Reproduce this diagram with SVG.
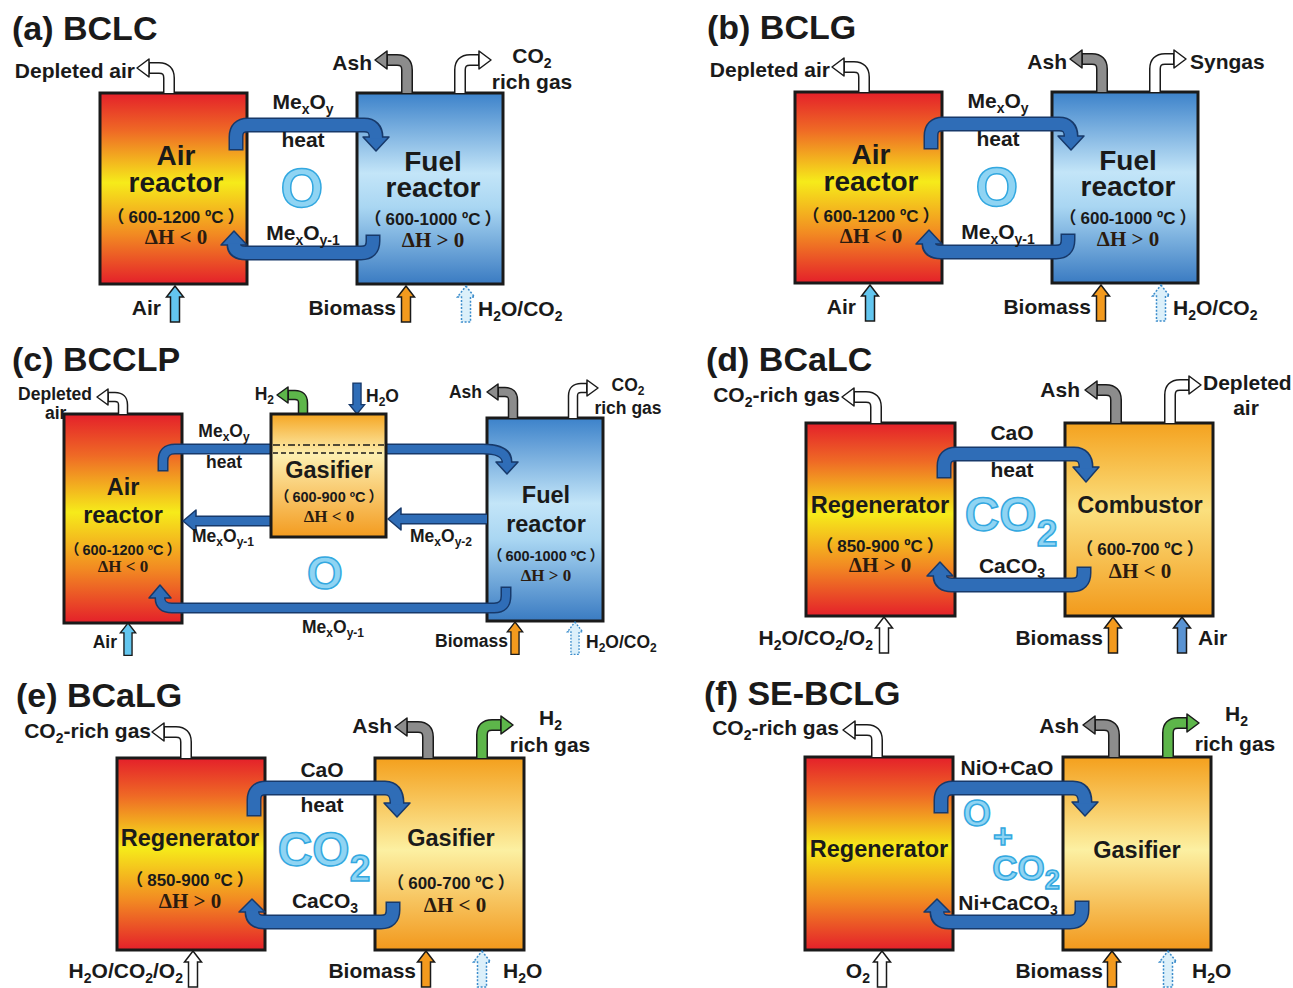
<svg xmlns="http://www.w3.org/2000/svg" width="1293" height="988" viewBox="0 0 1293 988">
<style>
.t{font-family:"Liberation Sans","Noto Sans CJK SC",sans-serif;font-weight:700;fill:#1a1a1a}
.ttl{font-size:34px}
.l{font-size:21px}
.s{font-size:17.5px}
.m{text-anchor:middle}
.e{text-anchor:end}
.n28{font-size:28px}
.n23{font-size:23.5px}
.p17{font-size:17px}
.p14{font-size:14.5px}
.dh{font-family:"Liberation Serif",serif;font-weight:700;fill:#2b1b0f;text-anchor:middle}
.big{font-family:"Liberation Sans",sans-serif;font-weight:700;fill:#8fd4f3;stroke:#33a8e0;stroke-width:1.5;text-anchor:middle}
.bx{stroke:#1a1a1a;stroke-width:3}
.lo{fill:none;stroke:#17396a;stroke-width:15}
.li{fill:none;stroke:#2f6db7;stroke-width:12}
.lo2{fill:none;stroke:#17396a;stroke-width:11}
.li2{fill:none;stroke:#2f6db7;stroke-width:8}
.lh{fill:#2f6db7;stroke:#17396a;stroke-width:1.5;stroke-linejoin:round}
.oo{fill:none;stroke:#1a1a1a;stroke-width:12}
.iw{fill:none;stroke:#fff;stroke-width:9}
.ig{fill:none;stroke:#8c8c8c;stroke-width:9}
.ie{fill:none;stroke:#5db64a;stroke-width:9}
.o2{stroke-width:10.5}
.w2{stroke-width:7.5}
.hw{fill:#fff;stroke:#1a1a1a;stroke-width:1.5;stroke-linejoin:round}
.hg{fill:#8c8c8c;stroke:#1a1a1a;stroke-width:1.5;stroke-linejoin:round}
.he{fill:#5db64a;stroke:#1a1a1a;stroke-width:1.5;stroke-linejoin:round}
.uw{fill:#fff;stroke:#1a1a1a;stroke-width:1.5}
.ul{fill:#63c6ef;stroke:#1a1a1a;stroke-width:1.5}
.uo{fill:#f39a1e;stroke:#1a1a1a;stroke-width:1.5}
.ub{fill:#5a93d2;stroke:#1a1a1a;stroke-width:1.5}
.ud{fill:#dcf0fa;stroke:#3b8ccb;stroke-width:1.5;stroke-dasharray:2 1.6}
.uk{fill:#2f6db7;stroke:#17396a;stroke-width:1.5}
.dl{stroke:#1a1a1a;stroke-width:1.3}
</style>
<defs>
<linearGradient id="gRed" x1="0" y1="0" x2="0" y2="1">
<stop offset="0" stop-color="#e4202a"/><stop offset="0.2" stop-color="#ef6a25"/><stop offset="0.47" stop-color="#f6eb1a"/><stop offset="0.74" stop-color="#f28a22"/><stop offset="1" stop-color="#e4202a"/>
</linearGradient>
<linearGradient id="gBlue" x1="0" y1="0" x2="0" y2="1">
<stop offset="0" stop-color="#3c82ca"/><stop offset="0.42" stop-color="#c3e5f8"/><stop offset="0.6" stop-color="#a9d6f2"/><stop offset="1" stop-color="#3a7bc2"/>
</linearGradient>
<linearGradient id="gComb" x1="0" y1="0" x2="0" y2="1">
<stop offset="0" stop-color="#f4a21f"/><stop offset="0.45" stop-color="#fbe07e"/><stop offset="1" stop-color="#f29a1c"/>
</linearGradient>
<linearGradient id="gGas" x1="0" y1="0" x2="0" y2="1">
<stop offset="0" stop-color="#f4a01d"/><stop offset="0.48" stop-color="#fcf0a2"/><stop offset="1" stop-color="#f2981c"/>
</linearGradient>
<linearGradient id="gGasC" x1="0" y1="0" x2="0" y2="1">
<stop offset="0" stop-color="#f5a623"/><stop offset="0.33" stop-color="#fdefb0"/><stop offset="1" stop-color="#f39b1f"/>
</linearGradient>
<path id="up" d="M0,0 L8.5,11 L4.5,11 L4.5,36 L-4.5,36 L-4.5,11 L-8.5,11 Z"/>
</defs>
<rect width="1293" height="988" fill="#fff"/>

<!-- ================= (a) BCLC ================= -->
<g id="panel-a">
<text class="t ttl" x="12" y="40">(a) BCLC</text>
<g id="a-air-reactor">
<rect class="bx" x="100" y="93" width="147" height="191" fill="url(#gRed)"/>
<text class="t n28 m" x="176" y="165">Air</text>
<text class="t n28 m" x="176" y="192">reactor</text>
<text class="t p17 m" x="176" y="223">（<tspan dx="4">600-1200 ºC</tspan><tspan dx="4">）</tspan></text>
<text class="dh" font-size="21" x="176" y="244">ΔH &lt; 0</text>
</g>
<g id="a-fuel-reactor">
<rect class="bx" x="357" y="93" width="146" height="191" fill="url(#gBlue)"/>
<text class="t n28 m" x="433" y="171">Fuel</text>
<text class="t n28 m" x="433" y="197">reactor</text>
<text class="t p17 m" x="433" y="225">（<tspan dx="4">600-1000 ºC</tspan><tspan dx="4">）</tspan></text>
<text class="dh" font-size="21" x="433" y="247">ΔH &gt; 0</text>
</g>
<g id="a-connectors">
<path class="lo" d="M236,150.5 V137 Q236,125 248,125 H364 Q376,125 376,137"/>
<polygon class="lh" points="363,137 389,137 376,151"/>
<path class="li" d="M236,149 V137 Q236,125 248,125 H364 Q376,125 376,138.5"/>
<path class="lo" d="M373,234.5 V241 Q373,253 361,253 H246 Q234,253 234,245"/>
<polygon class="lh" points="221,245 247,245 234,231"/>
<path class="li" d="M373,236 V241 Q373,253 361,253 H246 Q234,253 234,243.5"/>
<path class="oo" d="M169,93 V78 Q169,68 159,68 H149"/>
<polygon class="hw" points="137,68 149,59 149,77"/>
<path class="iw" d="M169,93 V78 Q169,68 159,68 H150"/>
<path class="oo" d="M407,93 V70 Q407,60 397,60 H387"/>
<polygon class="hg" points="375,60 387,51 387,69"/>
<path class="ig" d="M407,93 V70 Q407,60 397,60 H388"/>
<path class="oo" d="M460,93 V70 Q460,60 470,60 H479"/>
<polygon class="hw" points="491,60 479,51 479,69"/>
<path class="iw" d="M460,93 V70 Q460,60 470,60 H478"/>
<use href="#up" class="ul" x="175" y="286"/>
<use href="#up" class="uo" x="406" y="286"/>
<use href="#up" class="ud" x="466" y="286"/>
</g>
<text class="t l m" x="303" y="109">Me<tspan font-size="14" dy="5">x</tspan><tspan dy="-5">O</tspan><tspan font-size="14" dy="5">y</tspan></text>
<text class="t l m" x="303" y="147">heat</text>
<text class="big" font-size="55" x="302" y="207">O</text>
<text class="t l m" x="303" y="240">Me<tspan font-size="14" dy="5">x</tspan><tspan dy="-5">O</tspan><tspan font-size="14" dy="5">y-1</tspan></text>
<text class="t l e" x="135" y="78">Depleted air</text>
<text class="t l e" x="372" y="70">Ash</text>
<text class="t l m" x="532" y="63">CO<tspan font-size="14" dy="5">2</tspan></text>
<text class="t l m" x="532" y="89">rich gas</text>
<text class="t l e" x="161" y="315">Air</text>
<text class="t l e" x="396" y="315">Biomass</text>
<text class="t l" x="478" y="316">H<tspan font-size="14" dy="5">2</tspan><tspan dy="-5">O/CO</tspan><tspan font-size="14" dy="5">2</tspan></text>
</g>

<!-- ================= (b) BCLG ================= -->
<g id="panel-b" transform="translate(695,-1)">
<text class="t ttl" x="12" y="40">(b) BCLG</text>
<g id="b-air-reactor">
<rect class="bx" x="100" y="93" width="147" height="191" fill="url(#gRed)"/>
<text class="t n28 m" x="176" y="165">Air</text>
<text class="t n28 m" x="176" y="192">reactor</text>
<text class="t p17 m" x="176" y="223">（<tspan dx="4">600-1200 ºC</tspan><tspan dx="4">）</tspan></text>
<text class="dh" font-size="21" x="176" y="244">ΔH &lt; 0</text>
</g>
<g id="b-fuel-reactor">
<rect class="bx" x="357" y="93" width="146" height="191" fill="url(#gBlue)"/>
<text class="t n28 m" x="433" y="171">Fuel</text>
<text class="t n28 m" x="433" y="197">reactor</text>
<text class="t p17 m" x="433" y="225">（<tspan dx="4">600-1000 ºC</tspan><tspan dx="4">）</tspan></text>
<text class="dh" font-size="21" x="433" y="247">ΔH &gt; 0</text>
</g>
<g id="b-connectors">
<path class="lo" d="M236,150.5 V137 Q236,125 248,125 H364 Q376,125 376,137"/>
<polygon class="lh" points="363,137 389,137 376,151"/>
<path class="li" d="M236,149 V137 Q236,125 248,125 H364 Q376,125 376,138.5"/>
<path class="lo" d="M373,234.5 V241 Q373,253 361,253 H246 Q234,253 234,245"/>
<polygon class="lh" points="221,245 247,245 234,231"/>
<path class="li" d="M373,236 V241 Q373,253 361,253 H246 Q234,253 234,243.5"/>
<path class="oo" d="M169,93 V78 Q169,68 159,68 H149"/>
<polygon class="hw" points="137,68 149,59 149,77"/>
<path class="iw" d="M169,93 V78 Q169,68 159,68 H150"/>
<path class="oo" d="M407,93 V70 Q407,60 397,60 H387"/>
<polygon class="hg" points="375,60 387,51 387,69"/>
<path class="ig" d="M407,93 V70 Q407,60 397,60 H388"/>
<path class="oo" d="M460,93 V70 Q460,60 470,60 H479"/>
<polygon class="hw" points="491,60 479,51 479,69"/>
<path class="iw" d="M460,93 V70 Q460,60 470,60 H478"/>
<use href="#up" class="ul" x="175" y="286"/>
<use href="#up" class="uo" x="406" y="286"/>
<use href="#up" class="ud" x="466" y="286"/>
</g>
<text class="t l m" x="303" y="109">Me<tspan font-size="14" dy="5">x</tspan><tspan dy="-5">O</tspan><tspan font-size="14" dy="5">y</tspan></text>
<text class="t l m" x="303" y="147">heat</text>
<text class="big" font-size="55" x="302" y="207">O</text>
<text class="t l m" x="303" y="240">Me<tspan font-size="14" dy="5">x</tspan><tspan dy="-5">O</tspan><tspan font-size="14" dy="5">y-1</tspan></text>
<text class="t l e" x="135" y="78">Depleted air</text>
<text class="t l e" x="372" y="70">Ash</text>
<text class="t l" x="495" y="70">Syngas</text>
<text class="t l e" x="161" y="315">Air</text>
<text class="t l e" x="396" y="315">Biomass</text>
<text class="t l" x="478" y="316">H<tspan font-size="14" dy="5">2</tspan><tspan dy="-5">O/CO</tspan><tspan font-size="14" dy="5">2</tspan></text>
</g>

<!-- ================= (c) BCCLP ================= -->
<g id="panel-c">
<text class="t ttl" x="12" y="371">(c) BCCLP</text>
<g id="c-air-reactor">
<rect class="bx" x="64" y="414" width="118" height="209" fill="url(#gRed)"/>
<text class="t n23 m" x="123" y="495">Air</text>
<text class="t n23 m" x="123" y="523">reactor</text>
<text class="t p14 m" x="123" y="555">（<tspan dx="3">600-1200 ºC</tspan><tspan dx="3">）</tspan></text>
<text class="dh" font-size="17" x="123" y="572">ΔH &lt; 0</text>
</g>
<g id="c-fuel-reactor">
<rect class="bx" x="487" y="418" width="116" height="203" fill="url(#gBlue)"/>
<text class="t n23 m" x="546" y="503">Fuel</text>
<text class="t n23 m" x="546" y="532">reactor</text>
<text class="t p14 m" x="546" y="561">（<tspan dx="3">600-1000 ºC</tspan><tspan dx="3">）</tspan></text>
<text class="dh" font-size="17" x="546" y="581">ΔH &gt; 0</text>
</g>
<g id="c-connectors">
<path class="lo2" d="M163,471.5 V461 Q163,449 175,449 H483 Q507,449 507,462"/>
<polygon class="lh" points="496,462 518,462 507,474"/>
<path class="li2" d="M163,470 V461 Q163,449 175,449 H483 Q507,449 507,463"/>
<path class="lo2" d="M272,521 H196"/>
<polygon class="lh" points="196,510 196,532 183,521"/>
<path class="li2" d="M272,521 H195"/>
<path class="lo2" d="M487,519 H401"/>
<polygon class="lh" points="401,508 401,530 388,519"/>
<path class="li2" d="M487,519 H400"/>
<path class="lo2" d="M506,586.5 V596 Q506,608 494,608 H172 Q160,608 160,598"/>
<polygon class="lh" points="149,598 171,598 160,585"/>
<path class="li2" d="M506,588 V596 Q506,608 494,608 H172 Q160,608 160,597"/>
<path class="oo o2" d="M123,414 V405 Q123,397 115,397 H108"/>
<polygon class="hw" points="97,397 108,389 108,405"/>
<path class="iw w2" d="M123,414 V405 Q123,397 115,397 H109"/>
<path class="oo o2" d="M303,414 V403 Q303,395 295,395 H288"/>
<polygon class="he" points="277,395 288,387 288,403"/>
<path class="ie w2" d="M303,414 V403 Q303,395 295,395 H289"/>
<path class="oo o2" d="M513,418 V400 Q513,392 505,392 H498"/>
<polygon class="hg" points="487,392 498,384 498,400"/>
<path class="ig w2" d="M513,418 V400 Q513,392 505,392 H499"/>
<path class="oo o2" d="M573,418 V396 Q573,388 581,388 H587"/>
<polygon class="hw" points="598,388 587,380 587,396"/>
<path class="iw w2" d="M573,418 V396 Q573,388 581,388 H586"/>
<use href="#up" class="uk" transform="translate(357,414) rotate(180) scale(0.9,0.86)"/>
<use href="#up" class="ul" transform="translate(128,623) scale(0.9)"/>
<use href="#up" class="uo" transform="translate(515,622) scale(0.9)"/>
<use href="#up" class="ud" transform="translate(575,622) scale(0.9)"/>
</g>
<g id="c-gasifier">
<rect class="bx" x="271" y="414" width="115" height="123" fill="url(#gGasC)"/>
<line class="dl" x1="273" y1="445" x2="384" y2="445" stroke-dasharray="7 3 2 3"/>
<line class="dl" x1="273" y1="453" x2="384" y2="453" stroke-dasharray="5 3"/>
<text class="t n23 m" x="329" y="478">Gasifier</text>
<text class="t p14 m" x="329" y="502">（<tspan dx="3">600-900 ºC</tspan><tspan dx="3">）</tspan></text>
<text class="dh" font-size="17" x="329" y="522">ΔH &lt; 0</text>
</g>
<text class="t s m" x="224" y="437">Me<tspan font-size="12" dy="4">x</tspan><tspan dy="-4">O</tspan><tspan font-size="12" dy="4">y</tspan></text>
<text class="t s m" x="224" y="468">heat</text>
<text class="t s m" x="223" y="542">Me<tspan font-size="12" dy="4">x</tspan><tspan dy="-4">O</tspan><tspan font-size="12" dy="4">y-1</tspan></text>
<text class="t s m" x="441" y="542">Me<tspan font-size="12" dy="4">x</tspan><tspan dy="-4">O</tspan><tspan font-size="12" dy="4">y-2</tspan></text>
<text class="t s m" x="333" y="633">Me<tspan font-size="12" dy="4">x</tspan><tspan dy="-4">O</tspan><tspan font-size="12" dy="4">y-1</tspan></text>
<text class="big" font-size="46" x="325" y="589">O</text>
<text class="t s e" x="92" y="400">Depleted</text>
<text class="t s" x="45" y="419">air</text>
<text class="t s e" x="274" y="400">H<tspan font-size="12" dy="4">2</tspan></text>
<text class="t s" x="366" y="402">H<tspan font-size="12" dy="4">2</tspan><tspan dy="-4">O</tspan></text>
<text class="t s e" x="482" y="398">Ash</text>
<text class="t s m" x="628" y="391">CO<tspan font-size="12" dy="4">2</tspan></text>
<text class="t s m" x="628" y="414">rich gas</text>
<text class="t s e" x="117" y="648">Air</text>
<text class="t s e" x="508" y="647">Biomass</text>
<text class="t s" x="586" y="648">H<tspan font-size="12" dy="4">2</tspan><tspan dy="-4">O/CO</tspan><tspan font-size="12" dy="4">2</tspan></text>
</g>

<!-- ================= (d) BCaLC ================= -->
<g id="panel-d">
<text class="t ttl" x="706" y="371">(d) BCaLC</text>
<g id="d-regenerator">
<rect class="bx" x="806" y="423" width="149" height="193" fill="url(#gRed)"/>
<text class="t n23 m" x="880" y="513">Regenerator</text>
<text class="t p17 m" x="880" y="552">（<tspan dx="4">850-900 ºC</tspan><tspan dx="4">）</tspan></text>
<text class="dh" font-size="21" x="880" y="572">ΔH &gt; 0</text>
</g>
<g id="d-combustor">
<rect class="bx" x="1065" y="423" width="148" height="193" fill="url(#gComb)"/>
<text class="t n23 m" x="1140" y="513">Combustor</text>
<text class="t p17 m" x="1140" y="555">（<tspan dx="4">600-700 ºC</tspan><tspan dx="4">）</tspan></text>
<text class="dh" font-size="21" x="1140" y="578">ΔH &lt; 0</text>
</g>
<g id="d-connectors">
<path class="lo" d="M944,478.5 V466 Q944,454 956,454 H1074 Q1086,454 1086,467"/>
<polygon class="lh" points="1073,467 1099,467 1086,482"/>
<path class="li" d="M944,477 V466 Q944,454 956,454 H1074 Q1086,454 1086,468.5"/>
<path class="lo" d="M1084,566.5 V573 Q1084,585 1072,585 H952 Q940,585 940,576"/>
<polygon class="lh" points="927,576 953,576 940,562"/>
<path class="li" d="M1084,568 V573 Q1084,585 1072,585 H952 Q940,585 940,574.5"/>
<path class="oo" d="M876,423 V407 Q876,397 866,397 H854"/>
<polygon class="hw" points="842,397 854,388 854,406"/>
<path class="iw" d="M876,423 V407 Q876,397 866,397 H855"/>
<path class="oo" d="M1116,423 V400 Q1116,390 1106,390 H1097"/>
<polygon class="hg" points="1085,390 1097,381 1097,399"/>
<path class="ig" d="M1116,423 V400 Q1116,390 1106,390 H1098"/>
<path class="oo" d="M1170,423 V395 Q1170,385 1180,385 H1189"/>
<polygon class="hw" points="1201,385 1189,376 1189,394"/>
<path class="iw" d="M1170,423 V395 Q1170,385 1180,385 H1188"/>
<use href="#up" class="uw" x="884" y="617"/>
<use href="#up" class="uo" x="1113" y="617"/>
<use href="#up" class="ub" x="1182" y="617"/>
</g>
<text class="t l m" x="1012" y="440">CaO</text>
<text class="t l m" x="1012" y="477">heat</text>
<text class="big" font-size="48" x="1011" y="531">CO<tspan font-size="37" dy="15">2</tspan></text>
<text class="t l m" x="1012" y="573">CaCO<tspan font-size="14" dy="5">3</tspan></text>
<text class="t l e" x="840" y="402">CO<tspan font-size="14" dy="5">2</tspan><tspan dy="-5">-rich gas</tspan></text>
<text class="t l e" x="1080" y="397">Ash</text>
<text class="t l" x="1203" y="390">Depleted</text>
<text class="t l m" x="1246" y="415">air</text>
<text class="t l e" x="873" y="645">H<tspan font-size="14" dy="5">2</tspan><tspan dy="-5">O/CO</tspan><tspan font-size="14" dy="5">2</tspan><tspan dy="-5">/O</tspan><tspan font-size="14" dy="5">2</tspan></text>
<text class="t l e" x="1103" y="645">Biomass</text>
<text class="t l" x="1198" y="645">Air</text>
</g>

<!-- ================= (e) BCaLG ================= -->
<g id="panel-e">
<text class="t ttl" x="16" y="707">(e) BCaLG</text>
<g id="e-regenerator">
<rect class="bx" x="117" y="758" width="148" height="192" fill="url(#gRed)"/>
<text class="t n23 m" x="190" y="846">Regenerator</text>
<text class="t p17 m" x="190" y="886">（<tspan dx="4">850-900 ºC</tspan><tspan dx="4">）</tspan></text>
<text class="dh" font-size="21" x="190" y="908">ΔH &gt; 0</text>
</g>
<g id="e-gasifier">
<rect class="bx" x="375" y="758" width="149" height="192" fill="url(#gGas)"/>
<text class="t n23 m" x="451" y="846">Gasifier</text>
<text class="t p17 m" x="451" y="889">（<tspan dx="4">600-700 ºC</tspan><tspan dx="4">）</tspan></text>
<text class="dh" font-size="21" x="455" y="912">ΔH &lt; 0</text>
</g>
<g id="e-connectors">
<path class="lo" d="M254,816.5 V800 Q254,788 266,788 H385 Q397,788 397,803"/>
<polygon class="lh" points="384,803 410,803 397,817"/>
<path class="li" d="M254,815 V800 Q254,788 266,788 H385 Q397,788 397,804.5"/>
<path class="lo" d="M393,901.5 V910 Q393,922 381,922 H264 Q252,922 252,912"/>
<polygon class="lh" points="239,912 265,912 252,899"/>
<path class="li" d="M393,903 V910 Q393,922 381,922 H264 Q252,922 252,910.5"/>
<path class="oo" d="M186,758 V742 Q186,732 176,732 H164"/>
<polygon class="hw" points="152,732 164,723 164,741"/>
<path class="iw" d="M186,758 V742 Q186,732 176,732 H165"/>
<path class="oo" d="M428,758 V737 Q428,727 418,727 H407"/>
<polygon class="hg" points="395,727 407,718 407,736"/>
<path class="ig" d="M428,758 V737 Q428,727 418,727 H408"/>
<path class="oo" d="M482,758 V735 Q482,725 492,725 H501"/>
<polygon class="he" points="513,725 501,716 501,734"/>
<path class="ie" d="M482,758 V735 Q482,725 492,725 H500"/>
<use href="#up" class="uw" x="193" y="951"/>
<use href="#up" class="uo" x="426" y="951"/>
<use href="#up" class="ud" x="482" y="951"/>
</g>
<text class="t l m" x="322" y="777">CaO</text>
<text class="t l m" x="322" y="812">heat</text>
<text class="big" font-size="48" x="324" y="866">CO<tspan font-size="37" dy="15">2</tspan></text>
<text class="t l m" x="325" y="908">CaCO<tspan font-size="14" dy="5">3</tspan></text>
<text class="t l e" x="151" y="738">CO<tspan font-size="14" dy="5">2</tspan><tspan dy="-5">-rich gas</tspan></text>
<text class="t l e" x="392" y="733">Ash</text>
<text class="t l" x="539" y="725">H<tspan font-size="14" dy="5">2</tspan></text>
<text class="t l m" x="550" y="752">rich gas</text>
<text class="t l e" x="183" y="978">H<tspan font-size="14" dy="5">2</tspan><tspan dy="-5">O/CO</tspan><tspan font-size="14" dy="5">2</tspan><tspan dy="-5">/O</tspan><tspan font-size="14" dy="5">2</tspan></text>
<text class="t l e" x="416" y="978">Biomass</text>
<text class="t l" x="503" y="978">H<tspan font-size="14" dy="5">2</tspan><tspan dy="-5">O</tspan></text>
</g>

<!-- ================= (f) SE-BCLG ================= -->
<g id="panel-f">
<text class="t ttl" x="704" y="705">(f) SE-BCLG</text>
<g id="f-regenerator">
<rect class="bx" x="805" y="757" width="148" height="193" fill="url(#gRed)"/>
<text class="t n23 m" x="879" y="857">Regenerator</text>
</g>
<g id="f-gasifier">
<rect class="bx" x="1063" y="757" width="148" height="193" fill="url(#gGas)"/>
<text class="t n23 m" x="1137" y="858">Gasifier</text>
</g>
<g id="f-connectors">
<path class="lo" d="M941,813.5 V800 Q941,788 953,788 H1073 Q1085,788 1085,802"/>
<polygon class="lh" points="1072,802 1098,802 1085,816"/>
<path class="li" d="M941,812 V800 Q941,788 953,788 H1073 Q1085,788 1085,803.5"/>
<path class="lo" d="M1082,900.5 V910 Q1082,922 1070,922 H949 Q937,922 937,912"/>
<polygon class="lh" points="924,912 950,912 937,899"/>
<path class="li" d="M1082,902 V910 Q1082,922 1070,922 H949 Q937,922 937,910.5"/>
<path class="oo" d="M877,757 V740 Q877,730 867,730 H855"/>
<polygon class="hw" points="843,730 855,721 855,739"/>
<path class="iw" d="M877,757 V740 Q877,730 867,730 H856"/>
<path class="oo" d="M1114,757 V735 Q1114,725 1104,725 H1095"/>
<polygon class="hg" points="1083,725 1095,716 1095,734"/>
<path class="ig" d="M1114,757 V735 Q1114,725 1104,725 H1096"/>
<path class="oo" d="M1168,757 V733 Q1168,723 1178,723 H1187"/>
<polygon class="he" points="1199,723 1187,714 1187,732"/>
<path class="ie" d="M1168,757 V733 Q1168,723 1178,723 H1186"/>
<use href="#up" class="uw" x="882" y="951"/>
<use href="#up" class="uo" x="1112" y="951"/>
<use href="#up" class="ud" x="1168" y="951"/>
</g>
<text class="t l m" x="1007" y="775">NiO+CaO</text>
<text class="big" font-size="36" x="977" y="826">O</text>
<text class="big" font-size="34" x="1003" y="848">+</text>
<text class="big" font-size="35" x="1026" y="880">CO<tspan font-size="27" dy="9">2</tspan></text>
<text class="t l m" x="1008" y="910">Ni+CaCO<tspan font-size="14" dy="5">3</tspan></text>
<text class="t l e" x="839" y="735">CO<tspan font-size="14" dy="5">2</tspan><tspan dy="-5">-rich gas</tspan></text>
<text class="t l e" x="1079" y="733">Ash</text>
<text class="t l" x="1225" y="721">H<tspan font-size="14" dy="5">2</tspan></text>
<text class="t l m" x="1235" y="751">rich gas</text>
<text class="t l e" x="870" y="978">O<tspan font-size="14" dy="5">2</tspan></text>
<text class="t l e" x="1103" y="978">Biomass</text>
<text class="t l" x="1192" y="978">H<tspan font-size="14" dy="5">2</tspan><tspan dy="-5">O</tspan></text>
</g>
</svg>
